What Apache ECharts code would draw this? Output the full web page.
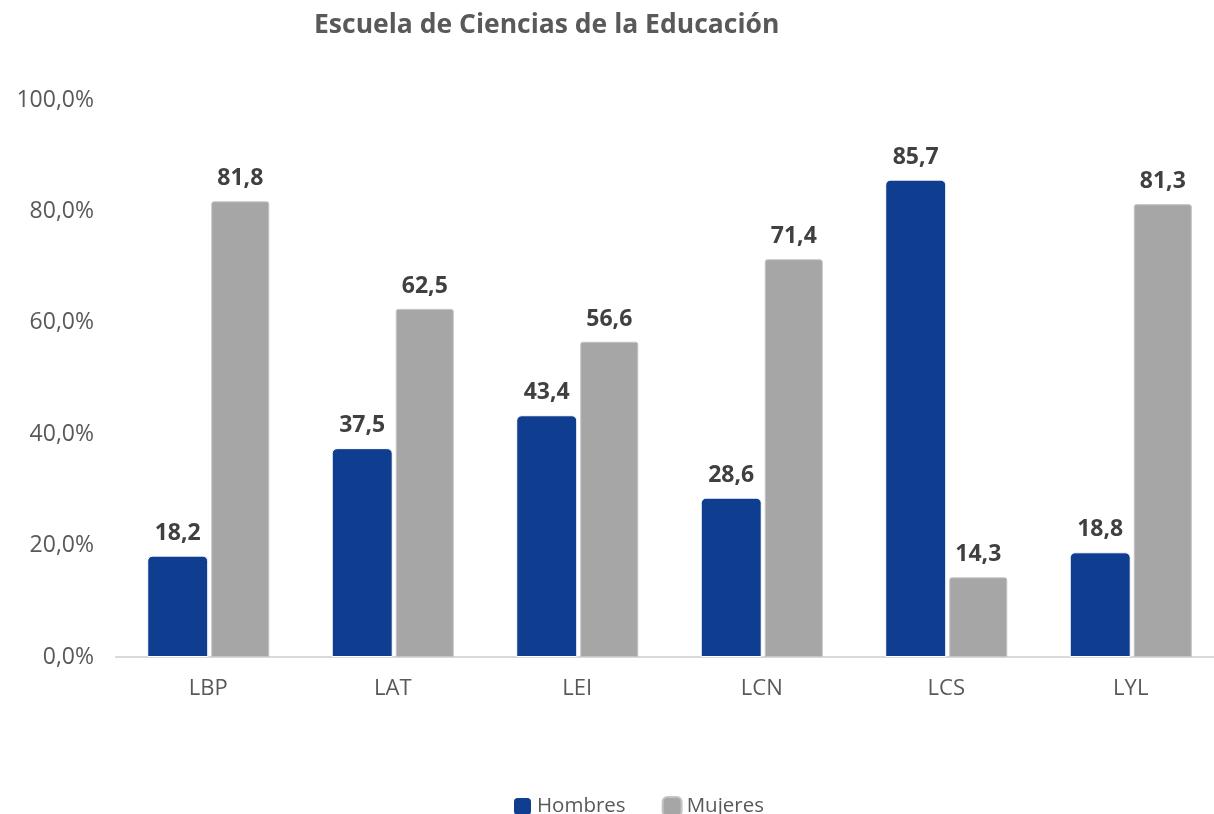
<!DOCTYPE html>
<html>
<head>
<meta charset="utf-8">
<script src="https://cdn.jsdelivr.net/npm/echarts@6/dist/echarts.min.js"></script>
<style>
html,body{margin:0;padding:0;background:#fff;}
#main{width:1214px;height:814px;}
</style>
</head>
<body>
<div id="main"></div>
<script>
// categorias (programas)
var categorias = ['LBP', 'LAT', 'LEI', 'LCN', 'LCS', 'LYL'];
// porcentajes
var hombres = [18.2, 37.5, 43.4, 28.6, 85.7, 18.8];
var mujeres = [81.8, 62.5, 56.6, 71.4, 14.3, 81.3];
var fuente = '"Open Sans", "Noto Sans", sans-serif';

var myChart = echarts.init(document.getElementById('main'));
var etiqueta = {
    show: true,
    position: 'top',
    distance: 11,
    color: '#404040',
    fontSize: 23,
    fontWeight: 'bold',
    fontFamily: fuente,
    formatter: function (p) { return p.value.toFixed(1).replace('.', ','); }
};
var option = {
    animation: false,
    title: {
        text: 'Escuela de Ciencias de la Educación',
        left: 309,
        top: 7,
        textStyle: {color: '#595959', fontSize: 26.5, fontWeight: 'bold', fontFamily: fuente}
    },
    legend: {
        data: ['Hombres', 'Mujeres'],
        bottom: -8,
        left: 507,
        itemWidth: 19,
        itemHeight: 19,
        itemGap: 36,
        icon: 'roundRect',
        textStyle: {color: '#595959', fontSize: 20.5, fontFamily: fuente}
    },
    // el eje sigue mas alla del borde derecho
    grid: {left: 116, top: 100, width: 1107, height: 557, outerBoundsMode: 'none'},
    xAxis: {
        type: 'category',
        data: categorias,
        axisLine: {lineStyle: {color: '#d9d9d9', width: 2}},
        axisTick: {show: false},
        axisLabel: {color: '#595959', fontSize: 22, fontFamily: fuente, margin: 21}
    },
    yAxis: {
        type: 'value',
        min: 0,
        max: 100,
        interval: 20,
        splitLine: {show: false},
        axisLine: {show: false},
        axisTick: {show: false},
        axisLabel: {
            color: '#595959', fontSize: 23, fontFamily: fuente, margin: 22,
            formatter: function (v) { return v.toFixed(1).replace('.', ',') + '%'; }
        }
    },
    series: [
        {
            name: 'Hombres',
            type: 'bar',
            data: hombres,
            barWidth: 61,
            barGap: '5%',
            itemStyle: {color: '#0f3d8f', borderColor: '#ffffff', borderWidth: 1, borderRadius: [5, 5, 0, 0]},
            label: etiqueta
        },
        {
            name: 'Mujeres',
            type: 'bar',
            data: mujeres,
            barWidth: 58,
            itemStyle: {color: '#a6a6a6', borderColor: '#c4c4c4', borderWidth: 1, borderRadius: [2, 2, 0, 0]},
            label: etiqueta
        }
    ]
};
myChart.setOption(option);
</script>
</body>
</html>
